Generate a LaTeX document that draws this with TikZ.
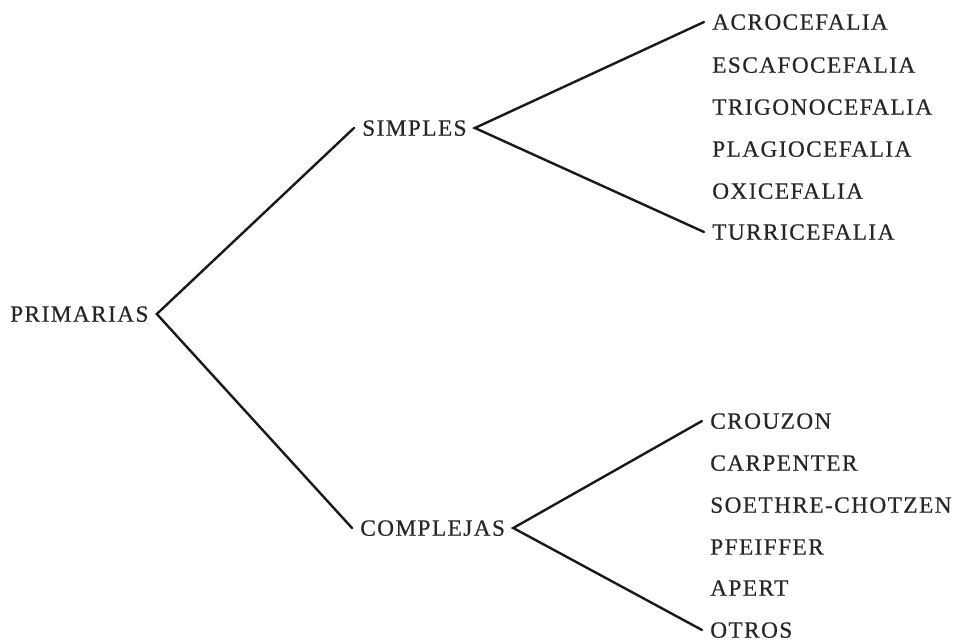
\documentclass[tikz,border=0pt]{standalone}
\usepackage{fontspec}
\setmainfont{Liberation Serif}[LetterSpace=6, FakeBold=0.4]
\begin{document}
\begin{tikzpicture}[
  x=0.75pt, y=-0.75pt,
  font=\fontsize{17.5}{20}\selectfont,
  every node/.style={text=black!85, inner xsep=6pt, inner ysep=2pt, text depth=0pt},
  branch/.style={anchor=west},
  leaf/.style={anchor=west},
  link/.style={draw=black!90, line width=1.8pt, line cap=round}
]
\useasboundingbox (0,0) rectangle (954,642);
\node[branch] (primarias) at (2,314) {PRIMARIAS};
\node[branch] (simples) at (354,128) {SIMPLES};
\node[branch] (complejas) at (352,528) {COMPLEJAS};
\node[leaf] (acro) at (704,22) {ACROCEFALIA};
\node[leaf] (escafo) at (704,65) {ESCAFOCEFALIA};
\node[leaf] (trigono) at (704,107) {TRIGONOCEFALIA};
\node[leaf] (plagio) at (704,149) {PLAGIOCEFALIA};
\node[leaf] (oxi) at (704,191) {OXICEFALIA};
\node[leaf] (turri) at (704,232) {TURRICEFALIA};
\node[leaf] (crouzon) at (702,421) {CROUZON};
\node[leaf] (carpenter) at (702,463) {CARPENTER};
\node[leaf] (soethre) at (702,505) {SOETHRE-CHOTZEN};
\node[leaf] (pfeiffer) at (702,547) {PFEIFFER};
\node[leaf] (apert) at (702,588) {APERT};
\node[leaf] (otros) at (702,630) {OTROS};
\draw[link] (simples.west) -- (primarias.east) -- (complejas.west);
\draw[link] (acro.west) -- (simples.east) -- (turri.west);
\draw[link] (crouzon.west) -- (complejas.east) -- (otros.west);
\end{tikzpicture}
\end{document}
